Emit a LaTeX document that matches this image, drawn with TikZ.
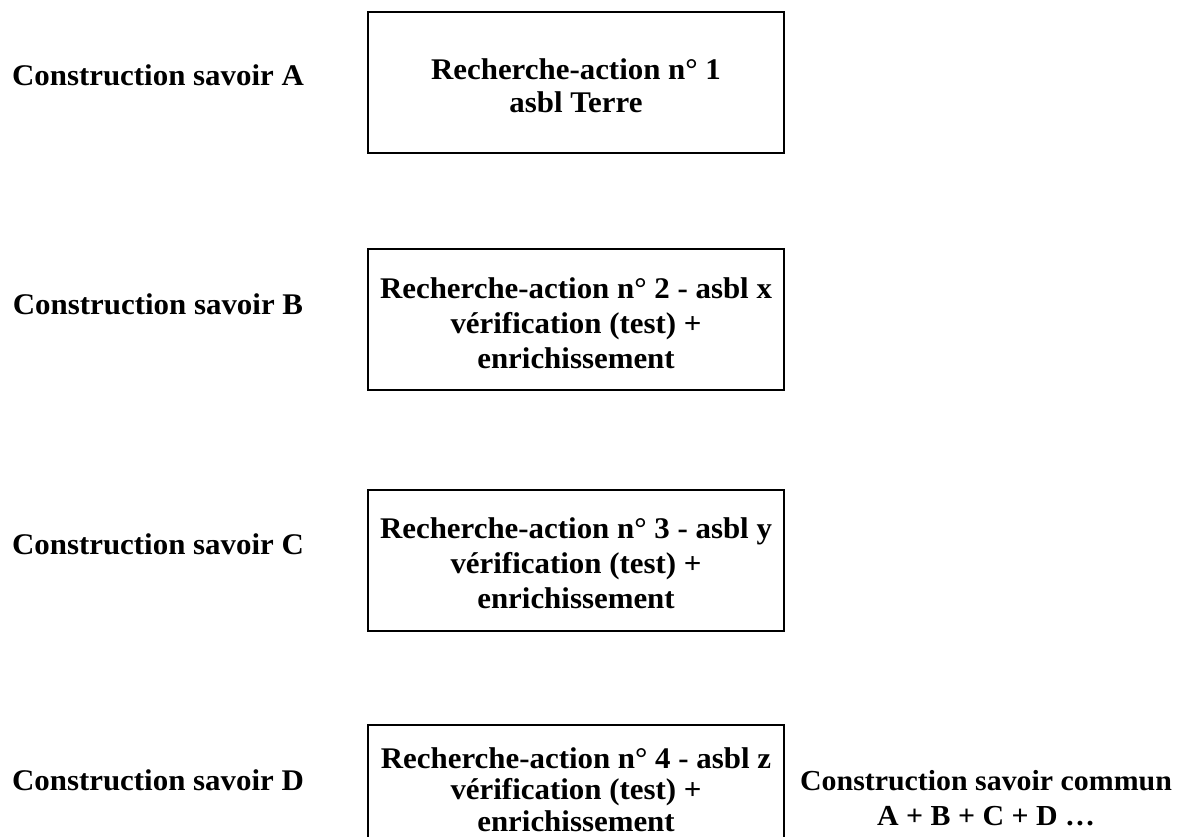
\documentclass[tikz,border=0pt]{standalone}
\usepackage{fontspec}
\setmainfont{Liberation Serif}[FakeStretch=1.03]
\begin{document}
\begin{tikzpicture}[x=1pt,y=-1pt,
  every node/.style={font=\fontsize{30}{35}\selectfont\bfseries, align=center, inner sep=0pt},
  box/.style={draw, line width=1.6pt, minimum width=416pt, minimum height=141pt},
  lab/.style={anchor=base}]
\clip (0,0) rectangle (1196,836);
\fill[white] (0,0) rectangle (1196,836);
% boxes
\node[box] (b1) at (576,82.5) {};
\node[box] (b2) at (576,319.5) {};
\node[box] (b3) at (576,560.5) {};
\node[box, minimum height=150pt] (b4) at (576,800) {};
% box texts
\node[font=\fontsize{30}{33}\selectfont\bfseries] (t1) at (576,85.25) {Recherche-action n° 1\\asbl Terre};
\node (t2) at (576,323.25) {Recherche-action n° 2 - asbl x\\vérification (test) +\\enrichissement};
\node (t3) at (576,563.25) {Recherche-action n° 3 - asbl y\\vérification (test) +\\enrichissement};
\node[font=\fontsize{30}{31.5}\selectfont\bfseries] (t4) at (576,789.5) {Recherche-action n° 4 - asbl z\\vérification (test) +\\enrichissement};
% labels
\node[lab] (la) at (158,85) {Construction savoir A};
\node[lab] (lb) at (158,314) {Construction savoir B};
\node[lab] (lc) at (158,554) {Construction savoir C};
\node[lab] (ld) at (158,790) {Construction savoir D};
\node[font=\fontsize{29}{35}\selectfont\bfseries] (lcom) at (986,798.25) {Construction savoir commun\\A + B + C + D \dots};
\end{tikzpicture}
\end{document}
